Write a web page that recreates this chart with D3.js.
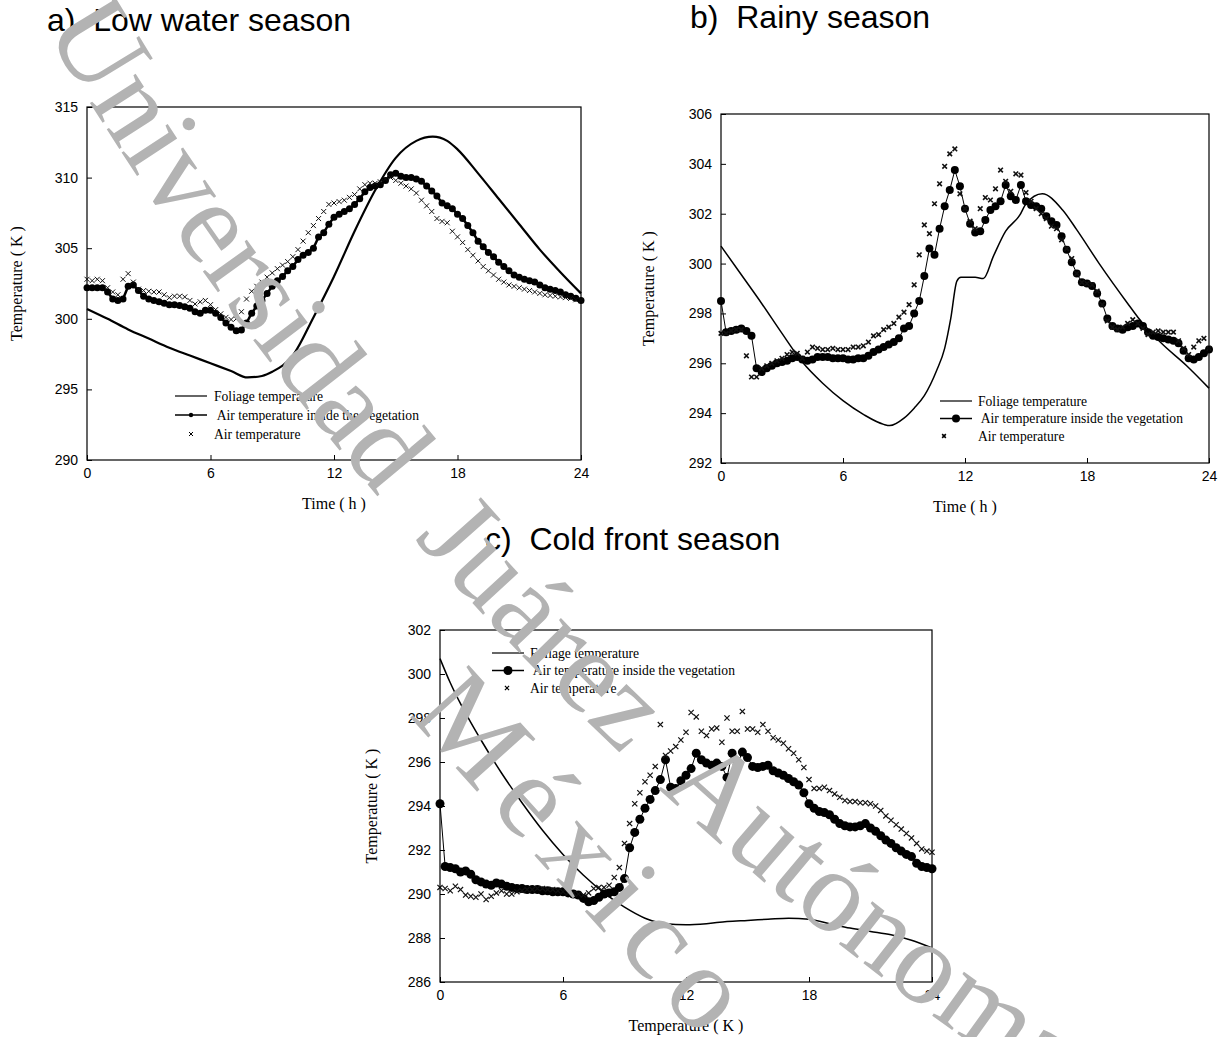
<!DOCTYPE html>
<html>
<head>
<meta charset="utf-8">
<script src="https://cdn.jsdelivr.net/npm/d3@7"></script>
<style>
  body { margin: 0; background: #fff; }
  svg { display: block; }
</style>
</head>
<body>
<svg id="figure"></svg>
<script>
// ---- data ----
// marker series are sampled every 15 min, 0 h .. 24 h
const STEP_H = 0.25;

const xTicks = [0, 6, 12, 18, 24];
const yTicksA = [290, 295, 300, 305, 310, 315];
const yTicksB = [292, 294, 296, 298, 300, 302, 304, 306];
const yTicksC = [286, 288, 290, 292, 294, 296, 298, 300, 302];

const legendLabels = ['Foliage temperature', ' Air temperature inside the vegetation', 'Air temperature'];

// a) Low water season
const foliageHoursA = [0, 1, 2, 3, 4, 5, 6, 7, 7.8, 8.5, 9, 10, 11, 12, 13, 14, 15, 16, 16.8, 17.5, 18, 19, 20, 21, 22, 23, 24];
const foliageA = [300.7, 300.0, 299.25, 298.6, 297.95, 297.4, 296.85, 296.3, 295.85, 295.95, 296.25, 297.4, 300.1, 303.0, 306.2, 309.1, 311.4, 312.6, 312.9, 312.6, 312.0, 310.3, 308.5, 306.7, 304.9, 303.3, 301.8];
const airVegA = [
  302.2, 302.2, 302.2, 302.2, 301.9, 301.4, 301.3, 301.4,
  302.3, 302.4, 302.0, 301.6, 301.4, 301.3, 301.2, 301.1,
  301.0, 301.0, 300.95, 300.85, 300.75, 300.5, 300.4, 300.6,
  300.6, 300.4, 300.1, 299.7, 299.4, 299.15, 299.2, 299.7,
  300.4, 300.9, 301.3, 301.8, 302.3, 302.7, 303.0, 303.4,
  303.7, 304.2, 304.5, 304.7, 305.0, 305.8, 306.1, 306.7,
  307.2, 307.4, 307.6, 307.8, 308.1, 308.5, 309.0, 309.3,
  309.4, 309.5, 309.8, 310.2, 310.3, 310.1, 310.0, 310.0,
  309.9, 309.75, 309.4, 309.05, 308.7, 308.2, 308.0, 307.8,
  307.4, 307.1, 306.6, 306.1, 305.5, 305.1, 304.7, 304.4,
  304.0, 303.7, 303.4, 303.1, 302.95, 302.8, 302.7, 302.6,
  302.4, 302.2, 302.1, 302.0, 301.9, 301.7, 301.6, 301.45,
  301.3
];
const airA = [
  302.8, 302.7, 302.8, 302.7, 302.2, 301.9, 301.7, 302.8,
  303.2, 302.6, 302.1, 302.0, 301.95, 301.9, 301.9, 301.7,
  301.5, 301.6, 301.6, 301.55, 301.3, 301.05, 301.2, 301.3,
  301.0, 300.65, 300.35, 300.1, 299.95, 300.0, 300.5, 301.4,
  301.95, 302.3, 302.6, 302.95, 303.25, 303.55, 303.8, 304.05,
  304.4, 304.9, 305.5, 306.1, 306.6, 307.1, 307.6, 308.1,
  308.2, 308.3, 308.4, 308.6, 308.8, 309.2, 309.5, 309.6,
  309.6, 309.7, 309.9, 310.0, 309.8, 309.6, 309.4, 309.2,
  308.9, 308.4, 308.0, 307.6, 307.1, 306.9, 306.8, 306.2,
  305.8, 305.4, 304.9, 304.5, 304.1, 303.7, 303.4, 303.1,
  302.8, 302.6, 302.4, 302.3, 302.2, 302.1, 302.0, 301.9,
  301.8, 301.7, 301.65, 301.6, 301.55, 301.5, 301.45, 301.35,
  301.3
];

// b) Rainy season
const foliageHoursB = [0, 1, 2, 3, 4, 5, 6, 7, 8, 8.3, 9, 9.5, 10, 10.6, 11, 11.3, 11.6, 11.8, 12.5, 12.9, 13.4, 14, 14.7, 15, 15.8, 16.8, 17.5, 18.6, 20, 20.5, 21.6, 22.9, 24];
const foliageB = [300.7, 299.55, 298.4, 297.2, 296.05, 295.2, 294.5, 293.95, 293.55, 293.5, 293.8, 294.2, 294.7, 295.7, 296.6, 297.8, 299.3, 299.45, 299.45, 299.4, 300.3, 301.3, 301.95, 302.4, 302.8, 302.15, 301.35, 300.0, 298.4, 297.85, 296.85, 295.9, 295.0];
const airVegB = [
  298.5, 297.25, 297.3, 297.35, 297.4, 297.3, 297.1, 295.8,
  295.65, 295.8, 295.9, 296.0, 296.05, 296.1, 296.2, 296.25,
  296.15, 296.1, 296.15, 296.25, 296.25, 296.25, 296.2, 296.2,
  296.2, 296.15, 296.15, 296.2, 296.2, 296.3, 296.45, 296.55,
  296.65, 296.75, 296.85, 297.0, 297.4, 297.5, 298.0, 298.5,
  299.5, 300.6, 300.35, 301.4, 302.3, 302.95, 303.75, 303.1,
  302.2, 301.6, 301.25, 301.3, 301.75, 302.15, 302.3, 302.5,
  303.15, 302.7, 302.55, 303.15, 302.5, 302.35, 302.3, 302.2,
  301.9, 301.7, 301.55, 301.1, 300.55, 300.05, 299.6, 299.25,
  299.2, 299.1, 298.8, 298.4, 297.8, 297.5, 297.4, 297.35,
  297.45, 297.5, 297.6, 297.5, 297.25, 297.1, 297.05, 297.0,
  296.95, 296.9, 296.8, 296.5, 296.2, 296.15, 296.25, 296.4,
  296.55
];
const airB = [
  297.2, 297.2, 297.3, 297.35, 297.35, 296.3, 295.45, 295.45,
  295.8, 295.9, 296.0, 296.1, 296.2, 296.35, 296.45, 296.4,
  296.2, 296.45, 296.65, 296.6, 296.55, 296.55, 296.6, 296.55,
  296.55, 296.55, 296.65, 296.65, 296.7, 296.85, 297.1, 297.15,
  297.35, 297.45, 297.6, 297.85, 298.05, 298.35, 299.15, 300.35,
  301.55, 301.2, 302.4, 303.2, 303.9, 304.4, 304.6, 302.8,
  302.2, 301.7, 301.4, 302.2, 302.65, 302.55, 303.0, 303.75,
  303.3, 302.9, 303.6, 303.55, 302.85, 302.5, 302.2, 302.0,
  301.8, 301.5, 301.4, 300.95, 300.6, 300.2, 299.6, 299.25,
  299.2, 299.15, 298.9, 298.35, 297.7, 297.45, 297.35, 297.45,
  297.6, 297.75, 297.6, 297.4, 297.15, 297.25, 297.3, 297.25,
  297.25, 297.25, 296.9, 296.6, 296.35, 296.65, 296.9, 297.0,
  296.6
];

// c) Cold front season
const foliageHoursC = [0, 0.5, 1, 1.5, 2, 3, 4, 5, 6, 7, 8, 9, 10, 11, 12, 13, 14, 15, 16, 17, 18, 19, 20, 21, 22, 23, 24];
const foliageC = [300.7, 299.6, 298.65, 297.8, 297.0, 295.5, 294.15, 292.9, 291.8, 290.85, 290.05, 289.4, 288.9, 288.65, 288.6, 288.65, 288.75, 288.8, 288.85, 288.9, 288.85, 288.65, 288.45, 288.3, 288.15, 287.9, 287.55];
const airVegC = [
  294.1, 291.25, 291.2, 291.15, 291.0, 291.05, 290.9, 290.65,
  290.55, 290.45, 290.4, 290.5, 290.45, 290.35, 290.3, 290.25,
  290.25, 290.2, 290.2, 290.2, 290.15, 290.15, 290.1, 290.1,
  290.1, 290.05, 290.0, 289.95, 289.8, 289.65, 289.7, 289.85,
  290.0, 290.05, 290.1, 290.3, 290.7, 292.1, 292.8, 293.4,
  293.9, 294.3, 294.7, 295.2, 296.1, 294.85, 294.8, 295.15,
  295.4, 295.7, 296.4, 296.1, 295.95, 295.85, 295.95, 295.8,
  295.3, 296.4, 295.9, 296.45, 296.2, 295.8, 295.75, 295.8,
  295.85, 295.6, 295.5, 295.4, 295.25, 295.1, 294.95, 294.6,
  294.1, 293.9, 293.75, 293.7, 293.6, 293.4, 293.2, 293.1,
  293.05, 293.05, 293.1, 293.2, 293.0, 292.85, 292.65, 292.45,
  292.3, 292.1, 291.95, 291.8, 291.7, 291.4, 291.25, 291.2,
  291.15
];
const airC = [
  290.3, 290.25, 290.15, 290.35, 290.2, 289.95, 289.9, 289.85,
  290.0, 289.75, 289.9, 290.05, 290.15, 290.0, 290.0, 290.1,
  290.15, 290.2, 290.2, 290.25, 290.25, 290.2, 290.2, 290.15,
  290.1, 290.05, 290.05, 290.0, 289.95, 290.05, 290.25, 290.3,
  290.3, 290.4, 290.75, 291.2, 292.3, 293.2, 294.1, 294.6,
  295.1, 295.4, 295.8, 297.7, 296.3, 296.5, 296.7, 297.0,
  297.35, 298.25, 298.05, 297.4, 297.2, 297.5, 297.55, 296.9,
  298.0, 297.4, 297.4, 298.3, 297.5, 297.5, 297.35, 297.7,
  297.4, 297.1, 297.0, 296.85, 296.6, 296.4, 296.1, 295.75,
  295.2, 294.8, 294.8, 294.85, 294.7, 294.55, 294.4, 294.25,
  294.2, 294.2, 294.15, 294.15, 294.1, 294.0, 293.8, 293.55,
  293.35, 293.15, 292.95, 292.75, 292.55, 292.3, 292.05, 291.95,
  291.9
];

const watermarkLines = ['Universidad Juárez Autónoma de Tabasco', 'México'];

const SANS = '"Liberation Sans", Arial, Helvetica, sans-serif';
const SERIF = '"Liberation Serif", "Times New Roman", Times, serif';

class SeasonChart {
    constructor(_config, _data) {
        this.config = {
          parentElement: _config.parentElement,
          left: _config.left,
          top: _config.top,
          width: _config.width,
          height: _config.height,
          yDomain: _config.yDomain,
          yTicks: _config.yTicks,
          title: _config.title,
          xLabel: _config.xLabel,
          yLabelX: _config.yLabelX,
          legend: _config.legend,
          circleR: _config.circleR || 3,
          chainWidth: _config.chainWidth || 1,
          crossR: _config.crossR || 2.5,
          crossWidth: _config.crossWidth || 1,
          foliageWidth: _config.foliageWidth || 1.5,
          legendDotR: _config.legendDotR || 3
        }

        this.data = _data;

        this.initVis();
    }

    initVis() {
        let vis = this;
        let c = vis.config;

        vis.svg = d3.select(c.parentElement);

        vis.chart = vis.svg.append('g')
            .attr('transform', `translate(${c.left},${c.top})`);

        vis.xScale = d3.scaleLinear()
            .domain([0, 24])
            .range([0, c.width]);

        vis.yScale = d3.scaleLinear()
            .domain(c.yDomain)
            .range([c.height, 0]);

        // ticks point into the plot, like the original
        vis.xAxis = d3.axisBottom(vis.xScale)
            .tickValues(xTicks)
            .tickSizeInner(-5)
            .tickSizeOuter(0)
            .tickPadding(8);

        vis.yAxis = d3.axisLeft(vis.yScale)
            .tickValues(c.yTicks)
            .tickSizeInner(-5)
            .tickSizeOuter(0)
            .tickPadding(9);

        vis.xAxisG = vis.chart.append('g')
            .attr('class', 'axis x-axis')
            .attr('transform', `translate(0,${c.height})`);

        vis.yAxisG = vis.chart.append('g')
            .attr('class', 'axis y-axis');

        vis.updateVis();
    }

    updateVis() {
        let vis = this;

        vis.foliage = vis.data.foliageHours.map((h, i) => ({hour: h, temp: vis.data.foliage[i]}));
        vis.airVeg = vis.data.airVeg.map((t, i) => ({hour: i * STEP_H, temp: t}));
        vis.air = vis.data.air.map((t, i) => ({hour: i * STEP_H, temp: t}));

        vis.foliageLine = d3.line()
            .curve(d3.curveMonotoneX)
            .x(d => vis.xScale(d.hour))
            .y(d => vis.yScale(d.temp));

        vis.markerLine = d3.line()
            .x(d => vis.xScale(d.hour))
            .y(d => vis.yScale(d.temp));

        vis.renderVis();
    }

    renderVis() {
        let vis = this;
        let c = vis.config;

        vis.chart.append('path')
            .datum(vis.foliage)
            .attr('fill', 'none')
            .attr('stroke', '#000')
            .attr('stroke-width', c.foliageWidth)
            .attr('d', vis.foliageLine);

        vis.chart.append('path')
            .datum(vis.airVeg)
            .attr('fill', 'none')
            .attr('stroke', '#000')
            .attr('stroke-width', c.chainWidth)
            .attr('stroke-linejoin', 'round')
            .attr('d', vis.markerLine);

        vis.chart.selectAll('.veg-dot')
            .data(vis.airVeg)
            .join('circle')
            .attr('class', 'veg-dot')
            .attr('cx', d => vis.xScale(d.hour))
            .attr('cy', d => vis.yScale(d.temp))
            .attr('r', c.circleR)
            .attr('fill', '#000');

        let r = c.crossR;
        vis.chart.selectAll('.air-cross')
            .data(vis.air)
            .join('path')
            .attr('class', 'air-cross')
            .attr('d', d => {
                let x = vis.xScale(d.hour), y = vis.yScale(d.temp);
                return `M${x - r},${y - r}L${x + r},${y + r}M${x - r},${y + r}L${x + r},${y - r}`;
            })
            .attr('stroke', '#111')
            .attr('stroke-width', c.crossWidth)
            .attr('fill', 'none');

        // axes
        vis.xAxisG.call(vis.xAxis)
            .call(g => g.select('.domain').remove())
            .attr('font-family', SANS)
            .attr('font-size', 14);
        vis.yAxisG.call(vis.yAxis)
            .call(g => g.select('.domain').remove())
            .attr('font-family', SANS)
            .attr('font-size', 14);
        vis.chart.selectAll('.tick line').attr('stroke', '#000');
        vis.chart.selectAll('.tick text').attr('fill', '#000');

        vis.chart.append('rect')
            .attr('width', c.width)
            .attr('height', c.height)
            .attr('fill', 'none')
            .attr('stroke', '#000')
            .attr('stroke-width', 1.2);

        // axis titles
        vis.chart.append('text')
            .attr('x', c.width / 2)
            .attr('y', c.height + 49)
            .attr('text-anchor', 'middle')
            .attr('font-family', SERIF)
            .attr('font-size', 16)
            .style('white-space', 'pre')
            .text(c.xLabel);

        vis.svg.append('text')
            .attr('transform', `translate(${c.yLabelX},${c.top + c.height / 2}) rotate(-90)`)
            .attr('text-anchor', 'middle')
            .attr('font-family', SERIF)
            .attr('font-size', 16)
            .style('white-space', 'pre')
            .text('Temperature ( K )');

        // panel title
        vis.svg.append('text')
            .attr('x', c.title.x)
            .attr('y', c.title.y)
            .attr('font-family', SANS)
            .attr('font-size', 32)
            .style('white-space', 'pre')
            .text(c.title.text);

        // legend
        let lg = c.legend;
        let legend = vis.svg.append('g')
            .attr('transform', `translate(${lg.x},${lg.y})`);

        legend.append('line')
            .attr('x1', 0).attr('x2', 32)
            .attr('y1', 0).attr('y2', 0)
            .attr('stroke', '#000').attr('stroke-width', 1.2);
        legend.append('line')
            .attr('x1', 0).attr('x2', 32)
            .attr('y1', lg.dy).attr('y2', lg.dy)
            .attr('stroke', '#000').attr('stroke-width', 1.5);
        legend.append('circle')
            .attr('cx', 16).attr('cy', lg.dy)
            .attr('r', c.legendDotR)
            .attr('fill', '#000');
        let lr = c.crossR * 0.8, cx = lg.crossX, cy = lg.dy * 2;
        legend.append('path')
            .attr('d', `M${cx - lr},${cy - lr}L${cx + lr},${cy + lr}M${cx - lr},${cy + lr}L${cx + lr},${cy - lr}`)
            .attr('stroke', '#000')
            .attr('stroke-width', c.crossWidth);

        legend.selectAll('.legend-label')
            .data(legendLabels)
            .join('text')
            .attr('class', 'legend-label')
            .attr('x', lg.textX)
            .attr('y', (d, i) => i * lg.dy + 4.5)
            .attr('font-family', SERIF)
            .attr('font-size', 13.6)
            .style('white-space', 'pre')
            .text(d => d);
    }
}

const svg = d3.select('#figure')
    .attr('width', 1221)
    .attr('height', 1037);

svg.append('rect').attr('width', 1221).attr('height', 1037).attr('fill', '#fff');

new SeasonChart({
    parentElement: '#figure',
    left: 87, top: 107, width: 494, height: 353,
    yDomain: [290, 315], yTicks: yTicksA,
    title: {x: 47, y: 31, text: 'a)  Low water season'},
    xLabel: 'Time ( h )', yLabelX: 22,
    legend: {x: 175, y: 396, dy: 19, textX: 39, crossX: 16},
    circleR: 3.5, chainWidth: 2.5, crossR: 2.5, crossWidth: 1, foliageWidth: 2.2, legendDotR: 2.2
}, {foliageHours: foliageHoursA, foliage: foliageA, airVeg: airVegA, air: airA});

new SeasonChart({
    parentElement: '#figure',
    left: 721, top: 114, width: 488, height: 349,
    yDomain: [292, 306], yTicks: yTicksB,
    title: {x: 690, y: 28, text: 'b)  Rainy season'},
    xLabel: 'Time ( h )', yLabelX: 654,
    legend: {x: 940, y: 401, dy: 17.5, textX: 38, crossX: 4},
    circleR: 4, chainWidth: 1, crossR: 2.3, crossWidth: 1.6, foliageWidth: 1.5, legendDotR: 4
}, {foliageHours: foliageHoursB, foliage: foliageB, airVeg: airVegB, air: airB});

new SeasonChart({
    parentElement: '#figure',
    left: 440, top: 630, width: 492, height: 352,
    yDomain: [286, 302], yTicks: yTicksC,
    title: {x: 485, y: 550, text: 'c)  Cold front season'},
    xLabel: 'Temperature ( K )', yLabelX: 377,
    legend: {x: 492, y: 653, dy: 17.5, textX: 38, crossX: 15},
    circleR: 4.5, chainWidth: 1, crossR: 2.6, crossWidth: 1.2, foliageWidth: 1.5, legendDotR: 4.5
}, {foliageHours: foliageHoursC, foliage: foliageC, airVeg: airVegC, air: airC});

// grey watermark laid over the figure, set along two gently curving baselines
const watermarkPaths = ['M44,28 Q445,701 1089,1125', 'M408,715 L1000,1373'];

svg.append('defs')
    .selectAll('path')
    .data(watermarkPaths)
    .join('path')
    .attr('id', (d, i) => `wm-path-${i}`)
    .attr('d', d => d);

svg.selectAll('.watermark')
    .data(watermarkLines)
    .join('text')
    .attr('class', 'watermark')
    .attr('font-family', SERIF)
    .attr('font-size', (d, i) => i === 0 ? 118 : 120)
    .attr('word-spacing', (d, i) => i === 0 ? 25 : 0)
    .attr('letter-spacing', (d, i) => i === 0 ? 0 : 14)
    .attr('fill', '#b3b3b3')
    .append('textPath')
    .attr('href', (d, i) => `#wm-path-${i}`)
    .text(d => d);
</script>
</body>
</html>
